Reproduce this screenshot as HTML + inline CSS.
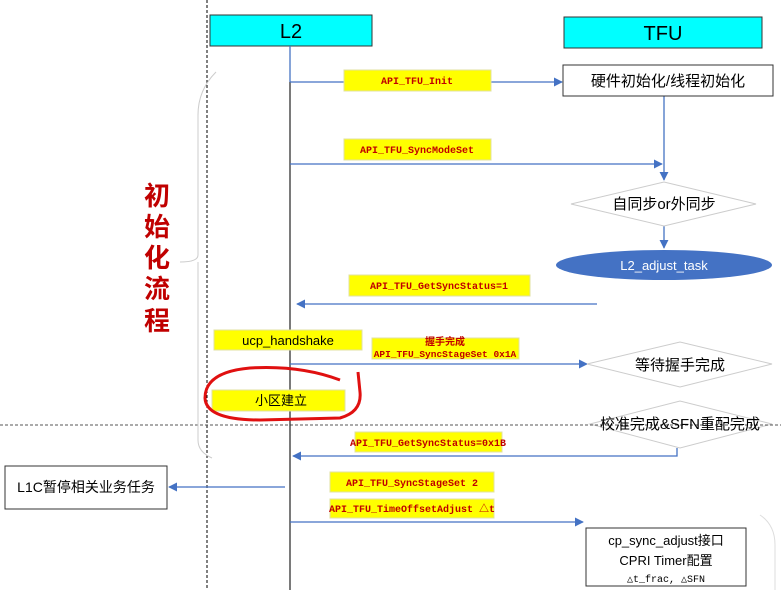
<!DOCTYPE html>
<html><head><meta charset="utf-8"><style>
html,body{margin:0;padding:0;background:#fff;}
svg{display:block;}
.cn{font-family:"Liberation Sans","Noto Sans CJK SC",sans-serif;}
.mono{font-family:"Liberation Mono","Noto Sans CJK SC",monospace;font-weight:bold;fill:#c00000;font-size:10px;}
</style></head><body>
<svg width="781" height="590" viewBox="0 0 781 590" xmlns="http://www.w3.org/2000/svg">
<defs>
<marker id="a" viewBox="0 0 10 10" refX="9" refY="5" markerWidth="7" markerHeight="7" orient="auto"><path d="M0,0 L10,5 L0,10 z" fill="#4472c4"/></marker>
</defs>
<!-- dashed guides -->
<line x1="207" y1="0" x2="207" y2="590" stroke="#000" stroke-dasharray="3,2" stroke-width="1"/>
<line x1="0" y1="425" x2="781" y2="425" stroke="#555" stroke-dasharray="3,2" stroke-width="1"/>
<!-- brace -->
<path d="M216,72 Q198,90 198,115 L198,255 Q198,262 180,262 M198,262 L198,440 Q198,452 212,458" fill="none" stroke="#ccc" stroke-width="1"/>
<path d="M760,515 Q775,525 775,545 L775,590" fill="none" stroke="#ddd" stroke-width="1"/>
<!-- headers -->
<rect x="210" y="15" width="162" height="31" fill="#00ffff" stroke="#333"/>
<text x="291" y="38" text-anchor="middle" class="cn" font-size="20">L2</text>
<rect x="564" y="17" width="198" height="31" fill="#00ffff" stroke="#333"/>
<text x="663" y="40" text-anchor="middle" class="cn" font-size="20">TFU</text>
<!-- lifeline -->
<line x1="290" y1="46" x2="290" y2="82" stroke="#4472c4" stroke-width="1.3"/>
<line x1="290" y1="82" x2="290" y2="590" stroke="#333" stroke-width="1.3"/>
<!-- red title -->
<g class="cn" font-size="26" fill="#c00000" font-weight="bold" text-anchor="middle">
<text x="157" y="205">初</text><text x="157" y="236">始</text><text x="157" y="267">化</text><text x="157" y="298">流</text><text x="157" y="330">程</text>
</g>
<!-- arrows -->
<g stroke="#4472c4" stroke-width="1.3" fill="none">
<line x1="290" y1="82" x2="562" y2="82" marker-end="url(#a)"/>
<line x1="664" y1="96" x2="664" y2="180" marker-end="url(#a)"/>
<line x1="290" y1="164" x2="662" y2="164" marker-end="url(#a)"/>
<line x1="664" y1="226" x2="664" y2="248" marker-end="url(#a)"/>
<line x1="597" y1="304" x2="297" y2="304" marker-end="url(#a)"/>
<line x1="290" y1="364" x2="587" y2="364" marker-end="url(#a)"/>
<polyline points="677,448 677,456 293,456" marker-end="url(#a)"/>
<line x1="285" y1="487" x2="169" y2="487" marker-end="url(#a)"/>
<line x1="290" y1="522" x2="583" y2="522" marker-end="url(#a)"/>
</g>
<!-- TFU boxes -->
<rect x="563" y="65" width="210" height="31" fill="#fff" stroke="#333"/>
<text x="668" y="86" text-anchor="middle" class="cn" font-size="15">硬件初始化/线程初始化</text>
<polygon points="571,204 664,182 756,204 664,226" fill="#fff" stroke="#ccc"/>
<text x="664" y="209" text-anchor="middle" class="cn" font-size="15">自同步or外同步</text>
<ellipse cx="664" cy="265" rx="108" ry="15" fill="#4472c4"/>
<text x="664" y="270" text-anchor="middle" class="cn" font-size="13" fill="#fff">L2_adjust_task</text>
<polygon points="587,364 680,342 772,364 680,387" fill="#fff" stroke="#ccc"/>
<text x="680" y="370" text-anchor="middle" class="cn" font-size="15">等待握手完成</text>
<polygon points="590,424 680,401 772,424 680,448" fill="#fff" stroke="#ccc"/>
<line x1="590" y1="425" x2="781" y2="425" stroke="#555" stroke-dasharray="3,2"/>
<text x="680" y="429" text-anchor="middle" class="cn" font-size="15">校准完成&amp;SFN重配完成</text>
<!-- left box -->
<rect x="5" y="466" width="162" height="43" fill="#fff" stroke="#333"/>
<text x="86" y="492" text-anchor="middle" class="cn" font-size="14">L1C暂停相关业务任务</text>
<!-- bottom box -->
<rect x="586" y="528" width="160" height="58" fill="#fff" stroke="#333"/>
<text x="666" y="545" text-anchor="middle" class="cn" font-size="13">cp_sync_adjust接口</text>
<text x="666" y="565" text-anchor="middle" class="cn" font-size="13">CPRI Timer配置</text>
<text x="666" y="582" text-anchor="middle" font-family="Liberation Mono,monospace" font-size="10">△t_frac, △SFN</text>
<!-- yellow labels -->
<g fill="#ffff00" stroke="#e0e0a0">
<rect x="344" y="70" width="147" height="21"/>
<rect x="344" y="139" width="147" height="21"/>
<rect x="349" y="275" width="181" height="21"/>
<rect x="214" y="330" width="148" height="20"/>
<rect x="372" y="338" width="147" height="21"/>
<rect x="212" y="390" width="133" height="21"/>
<rect x="355" y="432" width="147" height="20"/>
<rect x="330" y="472" width="164" height="20"/>
<rect x="330" y="499" width="164" height="19"/>
</g>
<g class="mono" text-anchor="middle">
<text x="417" y="84">API_TFU_Init</text>
<text x="417" y="153">API_TFU_SyncModeSet</text>
<text x="439" y="289">API_TFU_GetSyncStatus=1</text>
<text x="445" y="345" font-size="10">握手完成</text>
<text x="445" y="357" font-size="9.5">API_TFU_SyncStageSet 0x1A</text>
<text x="428" y="446">API_TFU_GetSyncStatus=0x1B</text>
<text x="412" y="486">API_TFU_SyncStageSet 2</text>
<text x="412" y="512">API_TFU_TimeOffsetAdjust △t</text>
</g>
<text x="288" y="345" text-anchor="middle" class="cn" font-size="13">ucp_handshake</text>
<text x="281" y="405" text-anchor="middle" class="cn" font-size="13">小区建立</text>
<!-- red circle -->
<path d="M340,380 Q300,365 250,368 Q205,372 205,398 Q206,420 260,420 L340,418 Q362,412 360,392 L358,372" fill="none" stroke="#e01010" stroke-width="3"/>
</svg>
</body></html>
